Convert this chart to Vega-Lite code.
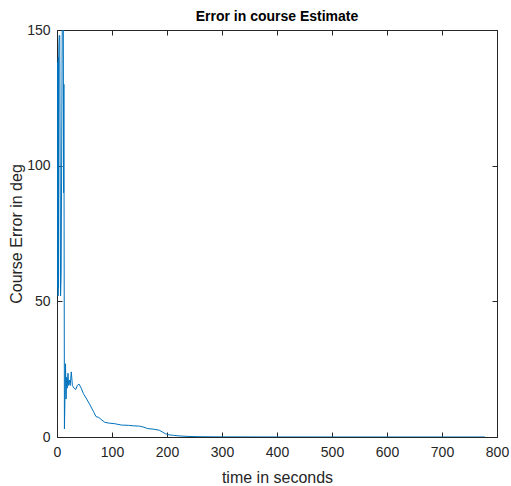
{
  "$schema": "https://vega.github.io/schema/vega-lite/v6.json",
  "autosize": "none",
  "width": 440,
  "height": 407,
  "padding": {"left": 57, "top": 30, "right": 14, "bottom": 49},
  "background": "white",
  "config": {
    "view": {"stroke": "#262626", "strokeWidth": 1},
    "font": "Liberation Sans",
    "axis": {"grid": false, "domainColor": "#262626", "tickColor": "#262626", "labelColor": "#262626", "titleColor": "#262626", "labelFont": "Liberation Sans", "titleFont": "Liberation Sans", "labelFontSize": 14, "titleFontSize": 16, "titleFontWeight": "normal"}
  },
  "title": {"text": "Error in course Estimate", "font": "Liberation Sans", "fontSize": 14, "fontWeight": "bold", "color": "#000000", "offset": -1},
  "data": {"values": [
    {"t":0,"v":138},{"t":0.4,"v":60},{"t":0.8,"v":138},{"t":1.2,"v":55},{"t":1.6,"v":138},{"t":2.0,"v":52},{"t":2.4,"v":140},{"t":2.8,"v":55},{"t":3.2,"v":142},{"t":4,"v":148},{"t":5,"v":148},{"t":6.5,"v":52},{"t":7.5,"v":60},{"t":9.5,"v":150},{"t":11.5,"v":150},{"t":12,"v":90},{"t":12.5,"v":130},{"t":13.5,"v":3},{"t":15.5,"v":27},{"t":16.5,"v":14},{"t":17.5,"v":22},{"t":18.5,"v":18},{"t":20,"v":23.5},{"t":21,"v":19},{"t":22.5,"v":21},{"t":24,"v":19},{"t":26,"v":24},{"t":28,"v":19},{"t":31,"v":18},{"t":34,"v":17.5},{"t":37,"v":19},{"t":40,"v":19.5},{"t":44,"v":18},{"t":48,"v":16},{"t":54,"v":14},{"t":60,"v":11.8},{"t":66,"v":9.5},{"t":71,"v":7.5},{"t":76,"v":7.2},{"t":80,"v":6.5},{"t":87,"v":5.4},{"t":95,"v":5.1},{"t":105,"v":4.9},{"t":117,"v":4.4},{"t":130,"v":4.3},{"t":140,"v":4.1},{"t":150,"v":4.0},{"t":158,"v":3.6},{"t":165,"v":3.1},{"t":175,"v":2.9},{"t":186,"v":2.5},{"t":192,"v":1.8},{"t":197,"v":1.2},{"t":204,"v":0.8},{"t":212,"v":0.6},{"t":222,"v":0.4},{"t":240,"v":0.2},{"t":260,"v":0.1},{"t":300,"v":0.05},{"t":400,"v":0.02},{"t":500,"v":0.01},{"t":600,"v":0.01},{"t":700,"v":0.01},{"t":778,"v":0.01}
  ]},
  "layer": [
    {
      "mark": {"type": "line", "color": "#0072BD", "strokeWidth": 1, "clip": true},
      "encoding": {
        "x": {"field": "t", "type": "quantitative", "scale": {"domain": [0, 800], "nice": false}, "axis": {"orient": "bottom", "title": "time in seconds", "values": [0,100,200,300,400,500,600,700,800], "tickSize": -5, "labelPadding": 13, "titlePadding": 10, "labelFlush": false}},
        "y": {"field": "v", "type": "quantitative", "scale": {"domain": [0, 150], "nice": false}, "axis": {"orient": "left", "title": "Course Error in deg", "values": [0,50,100,150], "tickSize": -5, "labelPadding": 12, "titlePadding": 2, "labelFlush": false}}
      }
    },
    {
      "mark": {"type": "line", "opacity": 0, "clip": true},
      "encoding": {
        "x": {"field": "t", "type": "quantitative", "scale": {"domain": [0, 800], "nice": false}, "axis": {"orient": "top", "title": null, "labels": false, "values": [0,100,200,300,400,500,600,700,800], "tickSize": -5}},
        "y": {"field": "v", "type": "quantitative", "scale": {"domain": [0, 150], "nice": false}, "axis": {"orient": "right", "title": null, "labels": false, "values": [0,50,100,150], "tickSize": -5}}
      }
    }
  ],
  "resolve": {"axis": {"x": "independent", "y": "independent"}}
}
